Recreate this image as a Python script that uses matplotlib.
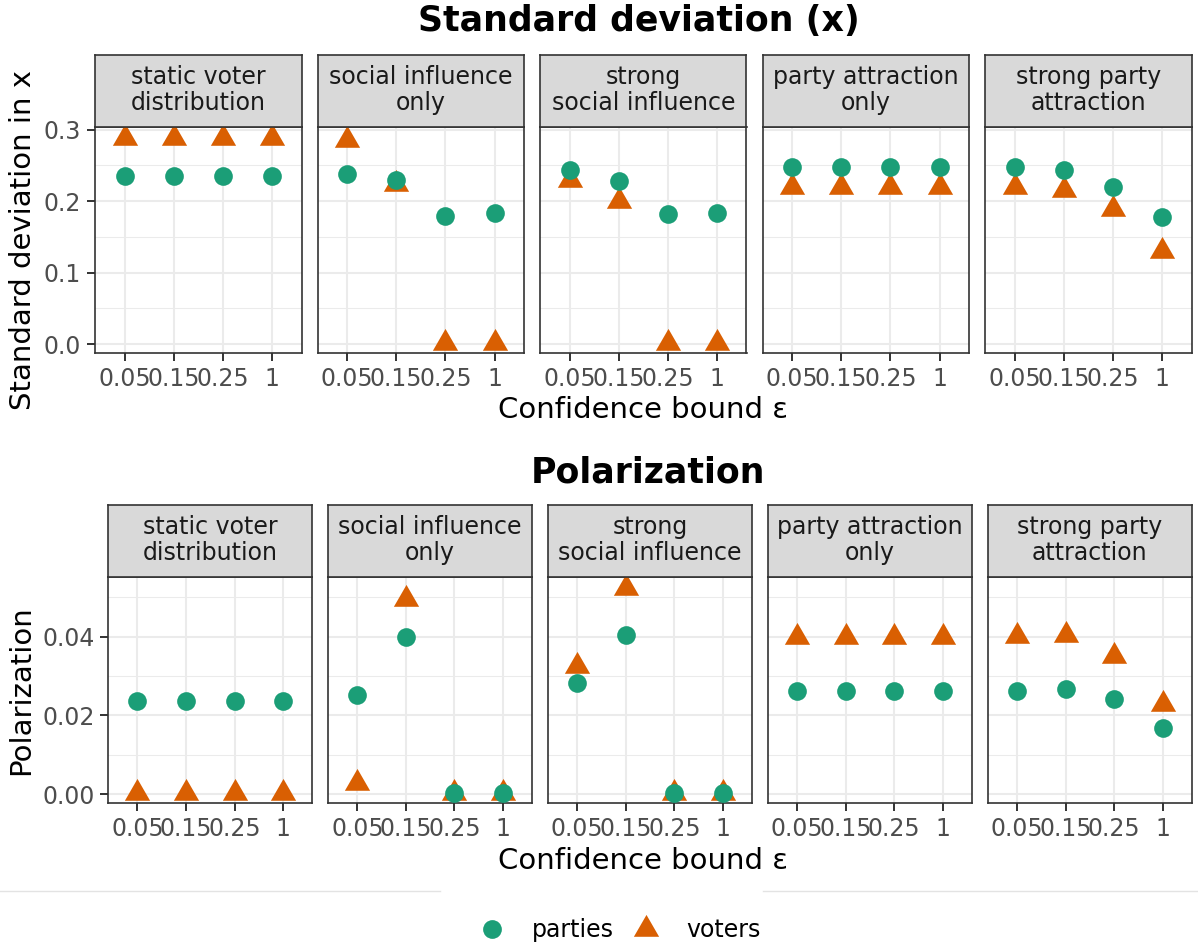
import matplotlib
matplotlib.use("Agg")
import matplotlib.pyplot as plt
from matplotlib.path import Path
from matplotlib.lines import Line2D

# confidence bounds (discrete x axis) and model scenarios (facets)
eps_labels = ["0.05", "0.15", "0.25", "1"]
scenarios = [
    "static voter\ndistribution",
    "social influence\nonly",
    "strong\nsocial influence",
    "party attraction\nonly",
    "strong party\nattraction",
]

# standard deviation in x, one row per scenario
sd_parties = [
    [0.235, 0.235, 0.235, 0.235],
    [0.238, 0.230, 0.179, 0.184],
    [0.244, 0.228, 0.182, 0.184],
    [0.248, 0.248, 0.248, 0.248],
    [0.248, 0.244, 0.220, 0.178],
]
sd_voters = [
    [0.289, 0.289, 0.289, 0.289],
    [0.285, 0.224, 0.0014, 0.0014],
    [0.229, 0.200, 0.0014, 0.0014],
    [0.220, 0.220, 0.220, 0.220],
    [0.220, 0.216, 0.189, 0.130],
]

# polarization, one row per scenario
pol_parties = [
    [0.0237, 0.0237, 0.0237, 0.0237],
    [0.0252, 0.0400, 0.0003, 0.0003],
    [0.0283, 0.0404, 0.0003, 0.0003],
    [0.0262, 0.0262, 0.0262, 0.0262],
    [0.0262, 0.0267, 0.0242, 0.0169],
]
pol_voters = [
    [0.0003, 0.0003, 0.0003, 0.0003],
    [0.0029, 0.0495, 0.0004, 0.0004],
    [0.0327, 0.0525, 0.0003, 0.0003],
    [0.0400, 0.0400, 0.0400, 0.0400],
    [0.0403, 0.0405, 0.0352, 0.0229],
]

sd_ticks = [0.0, 0.1, 0.2, 0.3]
sd_ticklabels = ["0.0", "0.1", "0.2", "0.3"]
sd_minor = [0.05, 0.15, 0.25]
pol_ticks = [0.0, 0.02, 0.04]
pol_ticklabels = ["0.00", "0.02", "0.04"]
pol_minor = [0.01, 0.03, 0.05]

C_PARTY = "#1B9E77"
C_VOTER = "#D95F02"
DARK = "#333333"
GRID = "#EBEBEB"

# equilateral triangle centred on its centroid (like R's pch 17)
TRI = Path([(0, 1), (-0.866, -0.5), (0.866, -0.5), (0, 1)],
           [Path.MOVETO, Path.LINETO, Path.LINETO, Path.CLOSEPOLY])

W, H = 1198, 947
fig = plt.figure(figsize=(W / 100, H / 100), dpi=100)
plt.rcParams["font.family"] = "DejaVu Sans"

TICK_FS = 17
TITLE_FS = 21
HEAD_FS = 25


def px_axes(x0, y0, x1, y1):
    return fig.add_axes([x0 / W, 1 - y1 / H, (x1 - x0) / W, (y1 - y0) / H])


def draw_row(parties, voters, ticks, ticklabels, minor, lefts, width,
             strip_top, panel_top, panel_bottom, ylabel):
    vals = [v for row in parties + voters for v in row]
    lo, hi = min(vals), max(vals)
    pad = 0.05 * (hi - lo)
    xs = [1, 2, 3, 4]
    for i, name in enumerate(scenarios):
        x0 = lefts[i]
        ax = px_axes(x0, panel_top, x0 + width, panel_bottom)
        ax.scatter(xs, voters[i], marker=TRI, s=441, color=C_VOTER,
                   linewidths=0, zorder=3)
        ax.scatter(xs, parties[i], marker="o", s=181, color=C_PARTY,
                   linewidths=0, zorder=4)
        ax.set_xlim(0.4, 4.6)
        ax.set_ylim(lo - pad, hi + pad)
        ax.set_xticks(xs)
        ax.set_xticklabels(eps_labels)
        ax.set_yticks(ticks)
        ax.set_yticks(minor, minor=True)
        ax.grid(True, which="major", color=GRID, lw=1.5, zorder=0)
        ax.grid(True, which="minor", axis="y", color=GRID, lw=0.75, zorder=0)
        ax.set_axisbelow(True)
        for sp in ax.spines.values():
            sp.set_color(DARK)
            sp.set_linewidth(1.2)
        ax.tick_params(which="major", length=6, width=1.4, color=DARK,
                       labelsize=TICK_FS, labelcolor="#4D4D4D", pad=4)
        ax.tick_params(which="minor", length=0)
        if i == 0:
            ax.set_yticklabels(ticklabels)
            ax.set_ylabel(ylabel, fontsize=TITLE_FS, labelpad=5)
        else:
            ax.tick_params(axis="y", left=False, labelleft=False)

        # facet strip
        st = px_axes(x0, strip_top, x0 + width, panel_top)
        st.set_facecolor("#D9D9D9")
        st.set_xticks([])
        st.set_yticks([])
        for sp in st.spines.values():
            sp.set_color(DARK)
            sp.set_linewidth(1.2)
        st.text(0.5, 0.52, name, ha="center", va="center", fontsize=TICK_FS,
                color="#1A1A1A", linespacing=1.1, transform=st.transAxes)


draw_row(sd_parties, sd_voters, sd_ticks, sd_ticklabels, sd_minor,
         [95, 317.5, 540, 762.5, 985], 206.5, 55, 127.3, 353.3,
         "Standard deviation in x")
draw_row(pol_parties, pol_voters, pol_ticks, pol_ticklabels, pol_minor,
         [108.3, 328.2, 548.1, 768, 987.9], 203.9, 505, 577.3, 803.3,
         "Polarization")

# section titles and shared x labels
fig.text(639 / W, 1 - 31.5 / H, "Standard deviation (x)", ha="center",
         va="baseline", fontsize=HEAD_FS, fontweight="bold")
fig.text(648 / W, 1 - 482 / H, "Polarization", ha="center",
         va="baseline", fontsize=HEAD_FS, fontweight="bold")
fig.text(643 / W, 1 - 418 / H, "Confidence bound ε", ha="center",
         va="baseline", fontsize=TITLE_FS)
fig.text(643 / W, 1 - 869 / H, "Confidence bound ε", ha="center",
         va="baseline", fontsize=TITLE_FS)

# thin separator above the legend
yl = 1 - 891 / H
fig.add_artist(Line2D([0, 440 / W], [yl, yl], transform=fig.transFigure,
                      color="#E3E3E3", lw=1))
fig.add_artist(Line2D([763 / W, 1], [yl, yl], transform=fig.transFigure,
                      color="#E3E3E3", lw=1))

handles = [
    Line2D([], [], marker="o", ls="", markersize=13.5, color=C_PARTY,
           markeredgewidth=0),
    Line2D([], [], marker=TRI, ls="", markersize=21, color=C_VOTER,
           markeredgewidth=0),
]
fig.legend(handles, ["parties", "voters"], loc="center",
           bbox_to_anchor=(619 / W, 1 - 930 / H), ncol=2, frameon=False,
           fontsize=TICK_FS, handlelength=1.2, handletextpad=1.1,
           columnspacing=0.75)

fig.savefig("out.png", dpi=100)
